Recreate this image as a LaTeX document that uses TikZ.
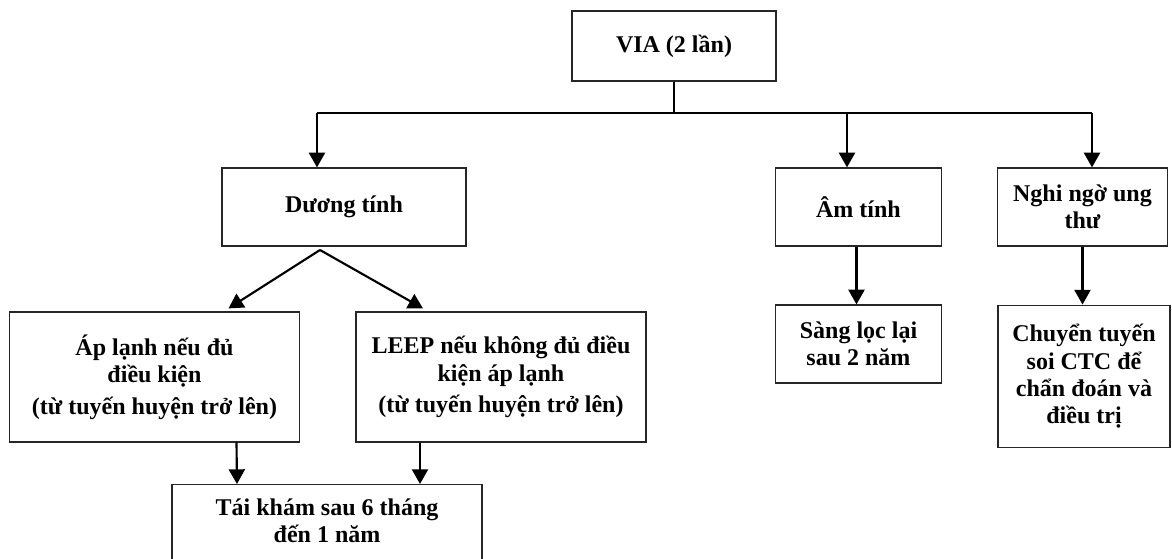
\documentclass[tikz,border=0pt]{standalone}
\usepackage{fontspec}
\setmainfont{Liberation Serif}
\usetikzlibrary{arrows.meta,calc}
\tikzset{
    box/.style={draw=black!85, line width=0.9pt, align=center, inner sep=0,
        font=\bfseries\fontsize{18}{20.5}\selectfont},
    link/.style={line width=1.3pt},
    arr/.style={line width=1.6pt, -{Triangle[length=11pt,width=12pt]}}
}

\begin{document}
\begin{tikzpicture}[x=0.75pt,y=-0.75pt]
    \useasboundingbox (0,0) rectangle (1172,559);
    \node[box, minimum width=153pt, minimum height=52.5pt] (via) at (674,46) {VIA (2 lần)};
    \node[box, minimum width=183pt, minimum height=58.5pt] (duong) at (344,207) {Dương tính};
    \node[box, minimum width=125pt, minimum height=58.5pt] (am) at (858.5,207) {Âm tính};
    \node[box, minimum width=127pt, minimum height=58.5pt] (nghi) at (1082.5,207) {Nghi ngờ ung\\thư};
    \node[box, minimum width=217pt, minimum height=97.5pt] (aplanh) at (154.5,377)
        {Áp lạnh nếu đủ\\điều kiện\\[3pt](từ tuyến huyện trở lên)};
    \node[box, minimum width=217.5pt, minimum height=97.5pt] (leep) at (501,377)
        {LEEP nếu không đủ điều\\kiện áp lạnh\\[3pt](từ tuyến huyện trở lên)};
    \node[box, minimum width=125pt, minimum height=58.5pt] (sang) at (858.5,344) {Sàng lọc lại\\sau 2 năm};
    \node[box, minimum width=129pt, minimum height=107pt] (chuyen) at (1084,376.5)
        {Chuyển tuyến\\soi CTC để\\chẩn đoán và\\điều trị};
    \node[box, minimum width=232.5pt, minimum height=75pt, anchor=north] (taikham) at (327,484)
        {Tái khám sau 6 tháng\\đến 1 năm\\\mbox{}};

    \coordinate (bl) at (317,113);
    \coordinate (bm) at (847,113);
    \coordinate (br) at (1092,113);
    \coordinate (fork) at (320,250);

    \draw[link] (via.south) -- (via.south |- bl);
    \draw[link] (bl) -- (br);
    \draw[arr] (bl) -- (bl |- duong.north);
    \draw[arr] (bm) -- (bm |- am.north);
    \draw[arr] (br) -- (br |- nghi.north);
    \draw[arr] (fork) -- ($(aplanh.north)+(74,-3)$);
    \draw[arr] (fork) -- ($(leep.north)+(-78,-3)$);
    \draw[arr] ($(aplanh.south)+(82,0)$) -- ($(taikham.north)+(-90,0)$);
    \draw[arr] ($(leep.south)+(-81,0)$) -- ($(taikham.north)+(93,0)$);
    \draw[arr] ($(am.south)+(-2,0)$) -- ($(sang.north)+(-2,0)$);
    \draw[arr] (nghi.south) -- (nghi.south |- chuyen.north);
\end{tikzpicture}
\end{document}
